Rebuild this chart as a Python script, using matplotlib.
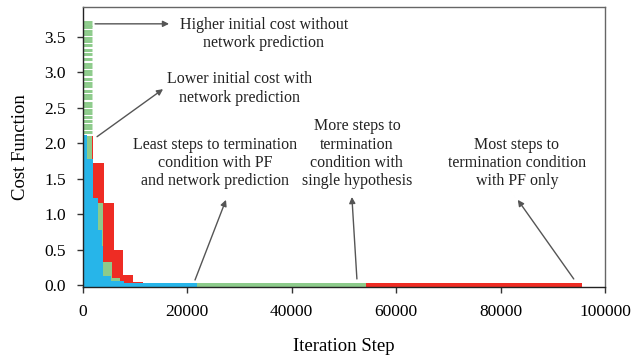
import matplotlib.pyplot as plt
import numpy as np

plt.rcParams["font.family"] = ["Liberation Serif", "DejaVu Serif"]

# Cost function traces as (step edges, level per step)
pf_steps = [0, 2000, 4000, 5900, 7700, 9600, 11500, 95500]
pf_cost = [2.10, 1.72, 1.15, 0.50, 0.14, 0.045, 0.03]

single_steps = [100, 1850, 3900, 5700, 7200, 54200]
single_cost = [2.10, 1.15, 0.33, 0.10, 0.03]

# Initial costs of the single-hypothesis samples (striped column)
single_initial = [3.71, 3.67, 3.63, 3.58, 3.53, 3.48, 3.44, 3.38, 3.31, 3.26,
                  3.19, 3.12, 3.07, 3.02, 2.97, 2.90, 2.85, 2.80, 2.73, 2.68,
                  2.63, 2.57, 2.52, 2.47, 2.42, 2.37, 2.31, 2.26, 2.21, 2.16]
single_initial_span = (100, 1850)

net_steps = [0, 800, 2050, 3000, 3650, 3950, 5400, 8000, 21800]
net_cost = [2.12, 1.78, 1.22, 0.78, 0.55, 0.12, 0.05, 0.03]

xticks = [0, 20000, 40000, 60000, 80000, 100000]
yticks = [0.0, 0.5, 1.0, 1.5, 2.0, 2.5, 3.0, 3.5]

RED = "#ee2c24"
GREEN = "#8dcb8b"
CYAN = "#27b5e9"
BASE = -0.03


def draw_steps(ax, edges, levels, color):
    x = np.asarray(edges, dtype=float)
    y = np.append(levels, levels[-1])
    ax.fill_between(x, BASE, y, step="post", color=color, lw=0)


fig = plt.figure(figsize=(6.41, 3.58), dpi=100)
ax = fig.add_axes([0.129, 0.198, 0.815, 0.782])

draw_steps(ax, pf_steps, pf_cost, RED)
ax.hlines(single_initial, *single_initial_span, color=GREEN, lw=2.1)
draw_steps(ax, single_steps, single_cost, GREEN)
draw_steps(ax, net_steps, net_cost, CYAN)

ax.set_xlim(0, 100000)
ax.set_ylim(BASE, 3.915)
ax.set_xticks(xticks)
ax.set_yticks(yticks)
ax.set_yticklabels([f"{v:.1f}" for v in yticks])
ax.tick_params(direction="out", length=4, width=1, color="#333333",
               labelsize=12.5, pad=8)
for sp in ax.spines.values():
    sp.set_color("#666666")
    sp.set_linewidth(1)
ax.spines["bottom"].set_color("#222222")
ax.spines["left"].set_color("#222222")

ax.set_xlabel("Iteration Step", fontsize=13.5, labelpad=13)
ax.set_ylabel("Cost Function", fontsize=13.5, labelpad=11)

arrow = dict(arrowstyle="-|>", color="#555555", lw=1, mutation_scale=9,
             shrinkA=0, shrinkB=0)
txt = dict(fontsize=11.5, ha="center", va="center", multialignment="center",
           linespacing=1.2, color="#222222")

ax.annotate("", xy=(16530, 3.68), xytext=(2370, 3.68), arrowprops=arrow)
ax.text(34700, 3.54, "Higher initial cost without\nnetwork prediction", **txt)

ax.annotate("", xy=(15380, 2.76), xytext=(2750, 2.09), arrowprops=arrow)
ax.text(30100, 2.77, "Lower initial cost with\nnetwork prediction", **txt)

ax.annotate("", xy=(27430, 1.20), xytext=(21500, 0.07), arrowprops=arrow)
ax.text(25330, 1.72, "Least steps to termination\ncondition with PF\n"
        "and network prediction", **txt)

ax.annotate("", xy=(51530, 1.24), xytext=(52490, 0.085), arrowprops=arrow)
ax.text(52490, 1.85, "More steps to\ntermination\ncondition with\n"
        "single hypothesis", **txt)

ax.annotate("", xy=(83280, 1.20), xytext=(94000, 0.085), arrowprops=arrow)
ax.text(83090, 1.72, "Most steps to\ntermination condition\nwith PF only", **txt)

fig.savefig("out.png", dpi=100)
